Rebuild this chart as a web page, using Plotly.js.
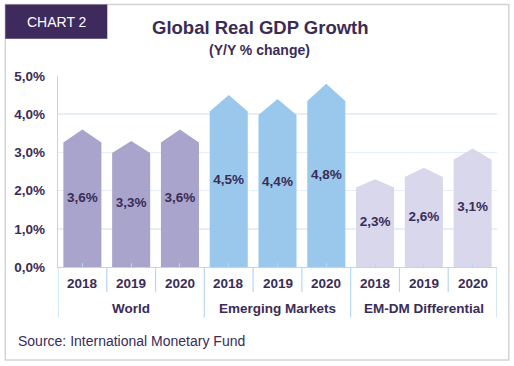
<!DOCTYPE html>
<html>
<head>
<meta charset="utf-8">
<script src="https://cdn.plot.ly/plotly-3.0.1.min.js"></script>
<style>html,body{margin:0;padding:0;background:#fff;}#chart{width:514px;height:366px;}</style>
</head>
<body>
<div id="chart"></div>
<script>
// ---- data ----
var groups = ["World", "Emerging Markets", "EM-DM Differential"];
var years = ["2018", "2019", "2020"];
var worldValues = [3.6, 3.3, 3.6];
var emValues = [4.5, 4.4, 4.8];
var diffValues = [2.3, 2.6, 3.1];
var yTicks = [0, 1, 2, 3, 4, 5];

// ---- styles ----
var FONT = "'Liberation Sans', Arial, sans-serif";
var TXT = "#3a2c56";
var colors = ["#a9a4cc", "#99c8ec", "#d9d7eb"];
var BLUE_LINE = "#b8d8f0";
var GRID = "#e4eff9";

var W = 514, H = 366;
var L = 57.7, R = 17.3, T = 75.7, B = 98.7;
var PW = W - L - R, PH = H - T - B;
function px(x) { return (x - L) / PW; }
function py(y) { return (H - B - y) / PH; }

var barW = 0.78;
var shoulder = 0.905;
var series = [worldValues, emValues, diffValues];

function fmt(v) { return v.toFixed(1).replace('.', ',') + '%'; }

var traces = [];
var labX = [], labY = [], labT = [];
series.forEach(function (vals, g) {
  var xs = [], ys = [];
  vals.forEach(function (v, k) {
    var i = g * 3 + k;
    var s = v * shoulder;
    xs.push(i - barW / 2, i - barW / 2, i, i + barW / 2, i + barW / 2, i - barW / 2, null);
    ys.push(0, s, v, s, 0, 0, null);
    labX.push(i); labY.push(v / 2); labT.push(fmt(v));
  });
  traces.push({
    type: 'scatter', mode: 'lines', x: xs, y: ys, fill: 'toself',
    fillcolor: colors[g], line: { width: 0, color: colors[g] },
    hoverinfo: 'skip', showlegend: false
  });
});
traces.push({
  type: 'scatter', mode: 'text', x: labX, y: labY, text: labT,
  textfont: { family: FONT, size: 13.5, color: TXT, weight: 'bold' },
  textposition: 'middle center', hoverinfo: 'skip', showlegend: false
});

var shapes = [];
var annotations = [];

// frame
shapes.push({ type: 'rect', xref: 'paper', yref: 'paper', x0: px(5), x1: px(508.5), y0: py(4), y1: py(360.5),
  line: { color: '#d3d3d3', width: 1.5 }, fillcolor: 'rgba(0,0,0,0)', layer: 'below' });
// chart tag box
shapes.push({ type: 'rect', xref: 'paper', yref: 'paper', x0: px(5), x1: px(107), y0: py(4), y1: py(38.3),
  line: { width: 0 }, fillcolor: '#3e2a5c', layer: 'above' });
annotations.push({ xref: 'paper', yref: 'paper', x: px(56.5), y: py(21.5), text: 'CHART 2', showarrow: false,
  xanchor: 'center', yanchor: 'middle', font: { family: FONT, size: 14, color: '#ffffff' } });
// titles
annotations.push({ xref: 'paper', yref: 'paper', x: px(260), y: py(27), text: '<b>Global Real GDP Growth</b>', showarrow: false,
  xanchor: 'center', yanchor: 'middle', font: { family: FONT, size: 18.5, color: TXT } });
annotations.push({ xref: 'paper', yref: 'paper', x: px(259.5), y: py(50), text: '<b>(Y/Y % change)</b>', showarrow: false,
  xanchor: 'center', yanchor: 'middle', font: { family: FONT, size: 14, color: TXT } });
// source
annotations.push({ xref: 'paper', yref: 'paper', x: px(15.5), y: py(342), text: 'Source: International Monetary Fund', showarrow: false,
  xanchor: 'left', yanchor: 'middle', font: { family: FONT, size: 14, color: TXT } });

// year labels and small boundary ticks
groups.forEach(function (gName, g) {
  years.forEach(function (yr, k) {
    var i = g * 3 + k;
    annotations.push({ xref: 'x', yref: 'paper', x: i, y: py(283.5), text: '<b>' + yr + '</b>', showarrow: false,
      xanchor: 'center', yanchor: 'middle', font: { family: FONT, size: 13.5, color: TXT } });
    if (k < 2) {
      shapes.push({ type: 'line', xref: 'x', yref: 'paper', x0: i + 0.5, x1: i + 0.5, y0: py(267.3), y1: py(292.5),
        line: { color: BLUE_LINE, width: 1.2 } });
    }
  });
  annotations.push({ xref: 'x', yref: 'paper', x: g * 3 + 1, y: py(309), text: '<b>' + gName + '</b>', showarrow: false,
    xanchor: 'center', yanchor: 'middle', font: { family: FONT, size: 13.5, color: TXT } });
});
// group dividers
[-0.5, 2.5, 5.5, 8.5].forEach(function (b) {
  shapes.push({ type: 'line', xref: 'x', yref: 'paper', x0: b, x1: b, y0: py(267.3), y1: py(318),
    line: { color: BLUE_LINE, width: 1.2 } });
});

var layout = {
  width: W, height: H,
  margin: { l: L, r: R, t: T, b: B, pad: 0 },
  paper_bgcolor: '#ffffff', plot_bgcolor: '#ffffff',
  showlegend: false,
  font: { family: FONT, color: TXT },
  xaxis: {
    range: [-0.5, 8.5], showgrid: false, zeroline: false,
    showline: true, linecolor: BLUE_LINE, linewidth: 1.2,
    tickvals: [0, 1, 2, 3, 4, 5, 6, 7, 8], ticks: 'inside', ticklen: 4, tickcolor: BLUE_LINE, tickwidth: 1,
    showticklabels: false, fixedrange: true
  },
  yaxis: {
    range: [0, 5], tickvals: yTicks, ticktext: yTicks.map(fmt),
    showgrid: true, gridcolor: GRID, gridwidth: 1.5, zeroline: false,
    showline: true, linecolor: BLUE_LINE, linewidth: 1.2,
    ticks: 'outside', ticklen: 9, tickcolor: 'rgba(0,0,0,0)',
    tickfont: { family: FONT, size: 13.5, color: TXT, weight: 'bold' }, fixedrange: true
  },
  shapes: shapes,
  annotations: annotations
};

Plotly.newPlot('chart', traces, layout, { displayModeBar: false, staticPlot: true });
</script>
</body>
</html>
